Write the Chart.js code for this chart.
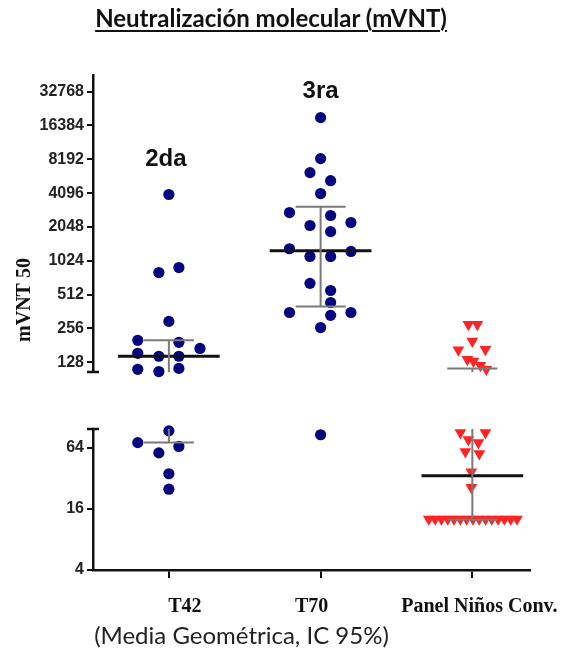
<!DOCTYPE html>
<html>
<head>
<meta charset="utf-8">
<script src="https://cdn.jsdelivr.net/npm/chart.js@4.4.1/dist/chart.umd.min.js"></script>
<style>
  body { margin: 0; background: #fff; }
  #wrap { position: relative; width: 564px; height: 666px; }
  #title {
    position: absolute; left: 0; top: 3px; width: 542px; text-align: center;
    font: bold 24px Lato, sans-serif; color: #111;
    text-decoration: underline; text-decoration-thickness: 2px; text-underline-offset: 3px;
  }
  #note {
    position: absolute; left: 0; top: 620px; width: 483px; text-align: center;
    font: 24px Lato, sans-serif; color: #222;
  }
</style>
</head>
<body>
<div id="wrap">
  <canvas id="chart"></canvas>
  <div id="title">Neutralización molecular (mVNT)</div>
  <div id="note">(Media Geométrica, IC 95%)</div>
</div>
<script>
// groups on the x axis
const groups = ['T42', 'T70', 'Panel Niños Conv.'];
const doseNotes = ['2da', '3ra', ''];
const noteLevels = [7190, 28500, null];

// individual titres (mVNT50)
const t42Values = [3980, 805, 892, 296, 201, 193, 170, 154, 145, 145, 111, 106, 113,
  94, 72, 66, 57, 35.5, 25];
const t70Values = [19200, 8300, 6230, 5280, 4060, 2750, 2590, 2240, 2110, 1860, 1310, 1240,
  1120, 1120, 645, 557, 436, 355, 335, 355, 261, 86];
const panelValues = [278, 278, 197, 165, 167, 136, 131, 120, 111,
  90, 90, 77, 72, 58.5, 56, 37, 26,
  12.7, 12.7, 12.7, 12.7, 12.7, 12.7, 12.7, 12.7, 12.7, 12.7, 12.7, 12.7, 12.7, 12.7, 12.7];

// horizontal scatter of the dots inside each group (fraction of group spacing)
const t42Jitter = [0, -0.066, 0.066, 0, -0.205, 0.066, 0.205, -0.205, -0.066, 0.066, -0.205, -0.066, 0.066,
  0, -0.205, 0.066, -0.066, 0, 0];
const t70Jitter = [0, 0, -0.07, 0.066, 0, -0.205, 0.066, 0.2, -0.07, 0.066, -0.205, 0.2,
  -0.07, 0.066, -0.07, 0.066, 0.066, -0.205, 0.066, 0.2, 0, 0];
const panelJitter = [-0.026, 0.033, 0, -0.092, 0.086, -0.033, 0.007, 0.053, 0.092,
  -0.079, 0.086, -0.026, 0.04, -0.046, 0.046, -0.007, -0.007,
  -0.287, -0.245, -0.204, -0.162, -0.121, -0.079, -0.038, 0.004, 0.045, 0.087, 0.128, 0.17, 0.211, 0.253, 0.294];

// geometric mean and 95% CI
const geoMeans = [145, 1260, 34];
const ciLower = [72, 402, 12.5];
const ciUpper = [201, 3100, 113];

// broken y axis
const lowerTicks = [4, 16, 64];
const upperTicks = [128, 256, 512, 1024, 2048, 4096, 8192, 16384, 32768];
const lowerRange = [4, 98];
const upperRange = [105, 46000];
const splitAt = 100;

const labelShift = [16, -9, 7];
const noteShift = [-3, 0, 0];

const axisFor = v => (v > splitAt ? 'yHigh' : 'yLow');

const pointSets = [];
function addGroup(values, jitter, gi, style) {
  ['yHigh', 'yLow'].forEach(axis => {
    const pts = [];
    values.forEach((v, k) => { if (axisFor(v) === axis) pts.push({ x: gi + jitter[k], y: v }); });
    pointSets.push(Object.assign({ type: 'scatter', data: pts, yAxisID: axis, order: 2, clip: false, borderWidth: 0 }, style));
  });
}
const dot = { backgroundColor: '#04047e', pointRadius: 5.6, pointHoverRadius: 5.6 };
const tri = { backgroundColor: '#ff2424', pointStyle: 'triangle', rotation: 180, pointRadius: 6.8, pointHoverRadius: 6.8 };
addGroup(t42Values, t42Jitter, 0, dot);
addGroup(t70Values, t70Jitter, 1, dot);
addGroup(panelValues, panelJitter, 2, tri);

const capHalf = 0.165, meanHalf = 0.335;
const lineSets = [];
function seg(axis, a, b, color, width) {
  lineSets.push({
    type: 'line', yAxisID: axis, data: [{ x: a[0], y: a[1] }, { x: b[0], y: b[1] }],
    borderColor: color, borderWidth: width, pointRadius: 0, fill: false, order: 0, clip: false
  });
}
groups.forEach((g, i) => {
  const lo = ciLower[i], hi = ciUpper[i], m = geoMeans[i];
  const ci = '#7a7a7a', mc = '#111';
  if (axisFor(lo) === axisFor(hi)) {
    seg(axisFor(lo), [i, lo], [i, hi], ci, 2);
  } else {
    seg('yLow', [i, lo], [i, lowerRange[1]], ci, 2);
    seg('yHigh', [i, upperRange[0]], [i, hi], ci, 2);
  }
  seg(axisFor(lo), [i - capHalf, lo], [i + capHalf, lo], ci, 2);
  seg(axisFor(hi), [i - capHalf, hi], [i + capHalf, hi], ci, 2);
  seg(axisFor(m), [i - meanHalf, m], [i + meanHalf, m], mc, 3);
});

const yTickStyle = {
  autoSkip: false, color: '#222', padding: 3,
  font: { family: 'Liberation Sans', weight: 'bold', size: 16 },
  callback: v => String(v)
};
const yGrid = { drawOnChartArea: false, color: '#111', lineWidth: 2, tickLength: 6 };
const yBorder = { color: '#111', width: 2.5 };

const decor = {
  id: 'decor',
  afterDraw(chart) {
    const { ctx, scales: { x, yHigh, yLow } } = chart;
    ctx.save();
    ctx.strokeStyle = '#111';
    ctx.lineWidth = 2.5;
    const ax = yHigh.right;
    [yHigh.bottom, yLow.top].forEach(py => {
      ctx.beginPath(); ctx.moveTo(ax - 6, py); ctx.lineTo(ax + 6, py); ctx.stroke();
    });
    ctx.fillStyle = '#111';
    ctx.textAlign = 'center';
    ctx.textBaseline = 'middle';
    ctx.font = 'bold 20px "Liberation Serif"';
    groups.forEach((g, i) => ctx.fillText(g, x.getPixelForValue(i) + labelShift[i], x.top + 37));
    ctx.font = 'bold 24px "Liberation Sans"';
    ctx.textBaseline = 'alphabetic';
    doseNotes.forEach((n, i) => {
      if (n) ctx.fillText(n, x.getPixelForValue(i) + noteShift[i], yHigh.getPixelForValue(noteLevels[i]));
    });
    ctx.textBaseline = 'middle';
    ctx.translate(25, 300);
    ctx.rotate(-Math.PI / 2);
    ctx.font = 'bold 20px "Liberation Serif"';
    ctx.fillText('mVNT 50', 0, 0);
    ctx.restore();
  }
};

new Chart(document.getElementById('chart'), {
  type: 'scatter',
  data: { datasets: [...lineSets, ...pointSets] },
  options: {
    responsive: true,
    maintainAspectRatio: false,
    animation: false,
    layout: { padding: { top: 75, right: 34, bottom: 0, left: 0 } },
    plugins: { legend: { display: false }, tooltip: { enabled: false }, title: { display: false } },
    scales: {
      x: {
        type: 'linear', min: -0.5, max: 2.38,
        afterBuildTicks: s => { s.ticks = groups.map((g, i) => ({ value: i })); },
        ticks: { display: false },
        grid: { drawOnChartArea: false, color: '#111', lineWidth: 2, tickLength: 8 },
        border: { color: '#111', width: 2.5 },
        afterFit: s => { s.height = 96; }
      },
      yLow: {
        type: 'logarithmic', position: 'left', stack: 'split', stackWeight: 141,
        min: lowerRange[0], max: lowerRange[1],
        afterBuildTicks: s => { s.ticks = lowerTicks.map(v => ({ value: v })); },
        ticks: yTickStyle, grid: yGrid, border: yBorder,
        afterFit: s => { s.width = 93; }
      },
      yGap: {
        type: 'linear', position: 'left', stack: 'split', stackWeight: 57, min: 0, max: 1,
        ticks: { display: false }, grid: { display: false }, border: { display: false },
        afterFit: s => { s.width = 93; }
      },
      yHigh: {
        type: 'logarithmic', position: 'left', stack: 'split', stackWeight: 297,
        min: upperRange[0], max: upperRange[1],
        afterBuildTicks: s => { s.ticks = upperTicks.map(v => ({ value: v })); },
        ticks: yTickStyle, grid: yGrid, border: yBorder,
        afterFit: s => { s.width = 93; }
      }
    }
  },
  plugins: [decor]
});
</script>
</body>
</html>
